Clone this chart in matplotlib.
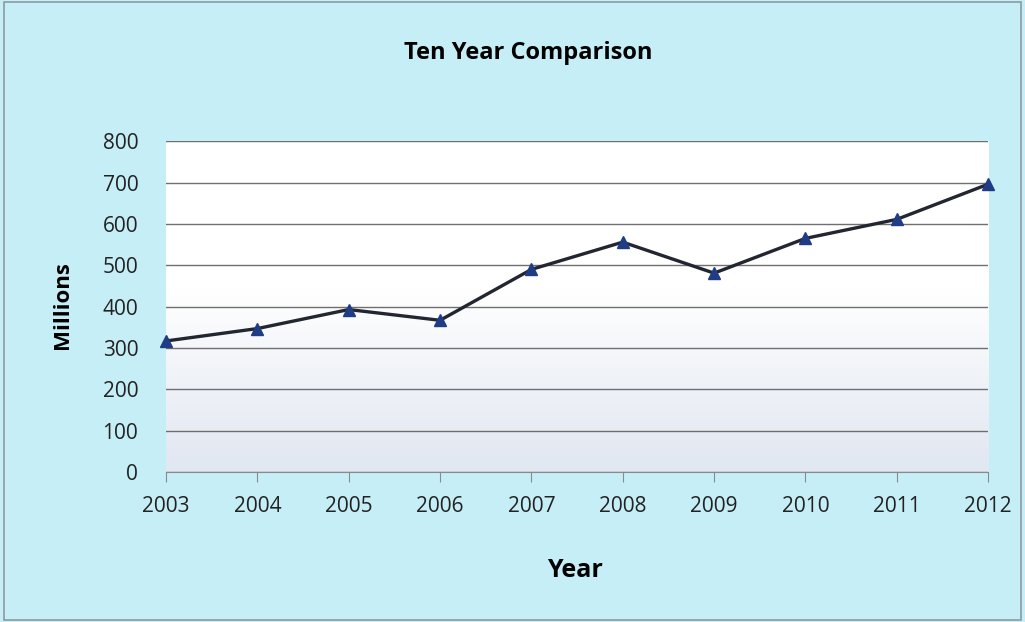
import numpy as np
import matplotlib
matplotlib.use("Agg")
import matplotlib.pyplot as plt

years = [2003, 2004, 2005, 2006, 2007, 2008, 2009, 2010, 2011, 2012]
values = [317, 347, 393, 367, 490, 556, 481, 565, 611, 696]
yticks = [0, 100, 200, 300, 400, 500, 600, 700, 800]

plt.rcParams['font.family'] = ['Open Sans', 'DejaVu Sans']

fig = plt.figure(figsize=(10.25, 6.22), dpi=100, facecolor='#c6eef7')
ax = fig.add_axes([0.162, 0.241, 0.802, 0.532])

# plot area gradient: white at top, pale blue-grey towards the bottom
frac = np.linspace(0, 1, 256)
top = np.array([1.0, 1.0, 1.0])
bottom = np.array([0.89, 0.91, 0.95])
img = np.zeros((256, 1, 3))
for i in range(256):
    t = min(1.0, max(0.0, (0.55 - frac[i]) / 0.5))
    img[i, 0] = top * (1 - t) + bottom * t
ax.imshow(img, extent=[2003, 2012, 0, 800], origin='lower', aspect='auto', zorder=0)
ax.set_xlim(2003, 2012)
ax.set_ylim(0, 800)

ax.set_yticks(yticks)
ax.set_xticks(years)
ax.grid(axis='y', color='#6f6f6f', linewidth=1.0, zorder=1)
for s in ['left', 'right', 'top']:
    ax.spines[s].set_visible(False)
ax.spines['bottom'].set_color('#8a8a8a')
ax.tick_params(axis='y', length=0, pad=20, labelsize=15, colors='#222222')
ax.tick_params(axis='x', length=7, color='#8a8a8a', pad=10, labelsize=15, labelcolor='#222222')

ax.plot(years, values, color='#222630', linewidth=2.4, marker='^', markersize=8,
        markerfacecolor='#1f3c85', markeredgecolor='#1f3c85', zorder=3, clip_on=False)

fig.text(0.515, 0.915, 'Ten Year Comparison', ha='center', va='center', fontsize=17, fontweight='bold')
fig.text(0.061, 0.51, 'Millions', ha='center', va='center', rotation=90, fontsize=16, fontweight='bold')
fig.text(0.561, 0.083, 'Year', ha='center', va='center', fontsize=18, fontweight='bold')

fig.patches.append(plt.Rectangle((0.004, 0.004), 0.992, 0.992, transform=fig.transFigure,
                                 fill=False, edgecolor='#8c9aa0', linewidth=1.2))

fig.savefig('out.png', dpi=100, facecolor=fig.get_facecolor())
